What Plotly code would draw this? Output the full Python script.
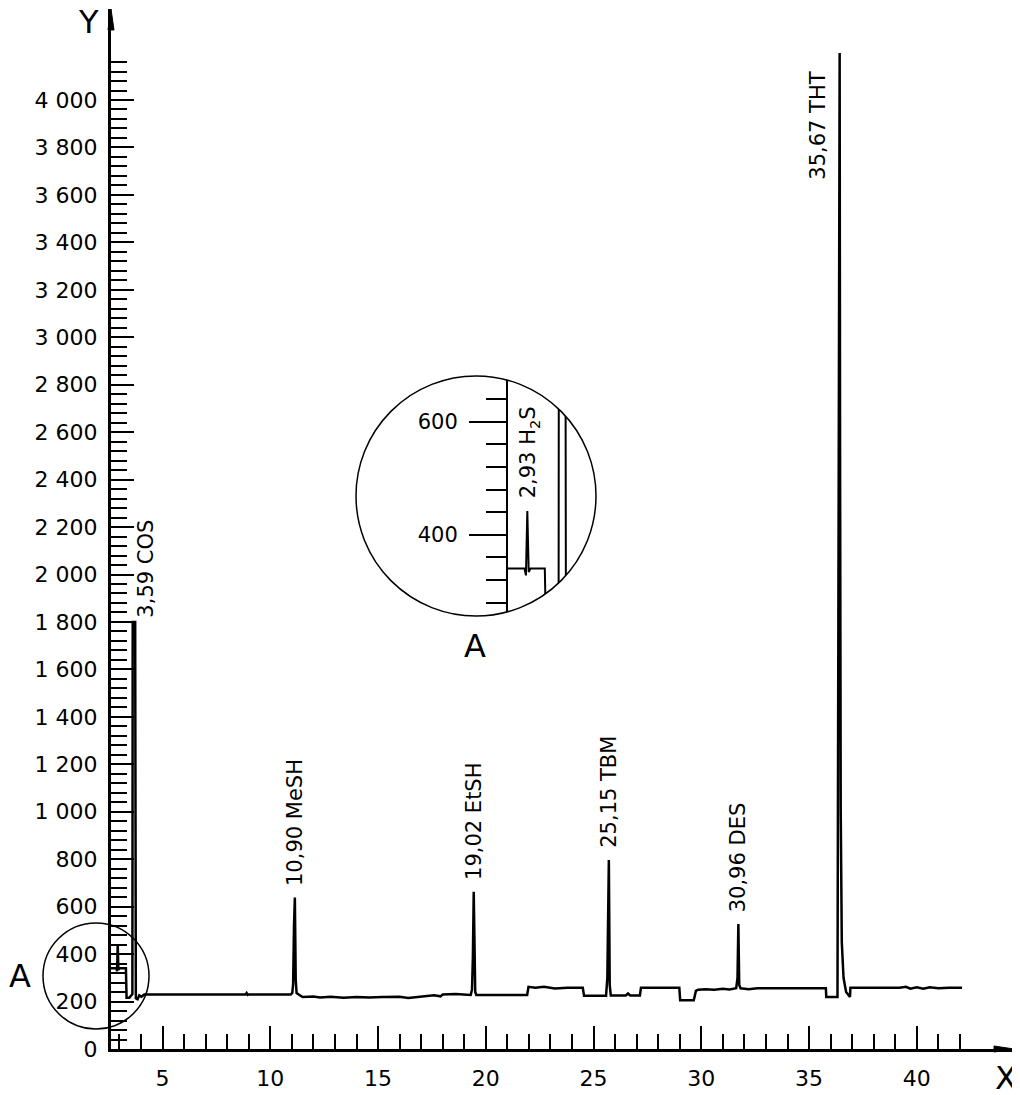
import plotly.graph_objects as go

# ---------------- data ----------------
rt = [2.45, 2.86, 2.89, 2.92, 2.95, 2.99, 3.30, 3.33, 3.46, 3.52, 3.57, 3.60, 3.615, 3.73, 3.76,
      3.84, 3.92, 4.02, 4.15, 6.0, 8.85, 8.90, 8.95, 9.0, 10.95, 11.02, 11.06, 11.10, 11.14,
      11.18, 11.22, 11.35, 11.50, 12.0, 12.3, 12.8, 13.4, 14.0, 14.6, 15.2, 16.0, 16.4, 17.0,
      17.6, 17.9, 18.0, 18.6, 19.0, 19.30, 19.36, 19.40, 19.44, 19.47, 19.51, 19.56, 21.92,
      21.98, 22.3, 22.7, 23.2, 23.8, 24.5, 24.56, 25.58, 25.64, 25.68, 25.71, 25.75, 25.80,
      26.5, 26.6, 26.7, 27.15, 27.20, 28.98, 29.02, 29.65, 29.75, 29.85, 30.2, 30.6, 31.0,
      31.3, 31.62, 31.68, 31.72, 31.76, 31.82, 32.2, 32.6, 33.0, 35.78, 35.80, 36.32, 36.36,
      36.42, 36.44, 36.47, 36.52, 36.60, 36.72, 36.85, 36.90, 36.92, 38.0, 39.2, 39.5, 39.7,
      40.0, 40.3, 40.6, 41.0, 41.5, 42.1]
signal = [340, 340, 328, 442, 334, 340, 340, 216, 216, 224, 232, 232, 1800, 1800, 214,
          210, 226, 220, 230, 230, 230, 236, 228, 230, 230, 236, 275, 520, 638,
          290, 236, 228, 219, 221, 217, 220, 216, 219, 217, 219, 220, 215, 222,
          226, 222, 230, 232, 230, 228, 250, 384, 663, 330, 240, 228, 228,
          262, 258, 262, 255, 258, 258, 224, 224, 300, 520, 797, 270, 226,
          226, 234, 226, 226, 258, 258, 205, 205, 245, 250, 252, 250, 254,
          251, 256, 300, 527, 270, 256, 252, 256, 256, 256, 219, 219, 1800,
          4198, 2500, 1000, 450, 300, 240, 222, 219, 258, 258, 258, 262, 254,
          260, 254, 260, 256, 258, 258]

peak_labels = ["3,59 COS", "10,90 MeSH", "19,02 EtSH", "25,15 TBM", "30,96 DES", "35,67 THT"]
peak_x = [3.615, 11.14, 19.44, 25.71, 31.72, 36.42]
peak_y = [1800, 638, 663, 797, 527, 4198]
inset_label = "2,93 H<sub>2</sub>S"
inset_peak_x = 2.92
inset_peak_y = 442

y_major = list(range(0, 4001, 200))
y_major_text = [f"{v:,}".replace(",", " ") for v in y_major]
y_minor = [v for v in range(0, 4161, 40) if v % 200 != 0]
x_major = [5, 10, 15, 20, 25, 30, 35, 40]
x_minor = [v for v in range(3, 43) if v % 5 != 0]
inset_major = [400, 600]
inset_minor = [v for v in range(280, 641, 40) if v not in (400, 600)]

# ---------------- layout geometry ----------------
# the page body adds an 8 px margin, so the figure is drawn 8 px smaller/shifted
OFF = 8
W, H = 1020 - OFF, 1095 - OFF
L, R, T, B = 111, 6, 9, 46          # in page pixels
PW = 1020 - L - R
PH = 1095 - T - B
BOTTOM = T + PH


def px(x):
    return (x - L) / PW


def py(y):
    return (BOTTOM - y) / PH


FONT = "DejaVu Sans"

fig = go.Figure()
fig.add_trace(go.Scatter(x=rt, y=signal, mode="lines", line=dict(color="black", width=2.5),
                         hoverinfo="skip", showlegend=False))
fig.add_trace(go.Scatter(x=rt, y=signal, mode="lines", line=dict(color="black", width=2),
                         xaxis="x2", yaxis="y2", hoverinfo="skip", showlegend=False))

# x scale: 21.55 px per minute, axis at 2.608; y scale 0.23725 px per unit
x_lo = 2.608
x_hi = x_lo + PW / 21.55
y_hi = PH / 0.23725

fig.update_layout(
    width=W, height=H,
    margin=dict(l=L - OFF, r=R, t=T - OFF, b=B),
    paper_bgcolor="white", plot_bgcolor="white",
    font=dict(family=FONT, size=22, color="black"),
    xaxis=dict(range=[x_lo, x_hi], showgrid=False, zeroline=False, showline=True,
               linecolor="black", linewidth=3, ticks="inside", ticklen=23, tickwidth=2,
               tickcolor="black", tickmode="array", tickvals=x_major,
               ticktext=[str(v) for v in x_major], ticklabelstandoff=8,
               minor=dict(tickmode="array", tickvals=x_minor, ticks="inside", ticklen=15,
                          tickwidth=2, tickcolor="black", showgrid=False),
               tickfont=dict(family=FONT, size=22)),
    yaxis=dict(range=[0, y_hi], showgrid=False, zeroline=False, showline=True,
               linecolor="black", linewidth=3, ticks="inside", ticklen=23, tickwidth=2,
               tickcolor="black", tickmode="array", tickvals=y_major, ticktext=y_major_text,
               ticklabelstandoff=6,
               minor=dict(tickmode="array", tickvals=y_minor, ticks="inside", ticklen=16,
                          tickwidth=2, tickcolor="black", showgrid=False),
               tickfont=dict(family=FONT, size=22)),
)

# ---------------- inset (detail A) ----------------
ins_left, ins_right, ins_top, ins_bot = 508, 600, 373, 613
ins_scale_y = 0.565
ins_y0 = 400 - (ins_bot - 534.7) / ins_scale_y
ins_y1 = 400 + (534.7 - ins_top) / ins_scale_y
ins_x0 = 2.50
ins_x1 = ins_x0 + (ins_right - ins_left) / 46.0

fig.update_layout(
    xaxis2=dict(domain=[px(ins_left), px(ins_right)], range=[ins_x0, ins_x1], anchor="y2",
                visible=False),
    yaxis2=dict(domain=[py(ins_bot), py(ins_top)], range=[ins_y0, ins_y1], anchor="x2",
                showgrid=False, zeroline=False, showline=True, linecolor="black", linewidth=2,
                ticks="outside", ticklen=37, tickwidth=2, tickcolor="black",
                tickmode="array", tickvals=inset_major, ticktext=[str(v) for v in inset_major],
                ticklabelstandoff=7, tickfont=dict(family=FONT, size=21),
                minor=dict(tickmode="array", tickvals=inset_minor, ticks="outside",
                           ticklen=20, tickwidth=2, tickcolor="black", showgrid=False)),
)

# mask outside the inset circle (rectangle with circular hole)
cx, cy, r = 476, 496, 120
rx0, rx1, ry0, ry1 = 350, 610, 368, 624
k = 0.5523 * r


def P(x, y):
    return f"{px(x):.6f},{py(y):.6f}"


mask = (f"M{P(rx0, ry0)} L{P(rx1, ry0)} L{P(rx1, ry1)} L{P(rx0, ry1)} Z "
        f"M{P(cx + r, cy)} "
        f"C{P(cx + r, cy + k)} {P(cx + k, cy + r)} {P(cx, cy + r)} "
        f"C{P(cx - k, cy + r)} {P(cx - r, cy + k)} {P(cx - r, cy)} "
        f"C{P(cx - r, cy - k)} {P(cx - k, cy - r)} {P(cx, cy - r)} "
        f"C{P(cx + k, cy - r)} {P(cx + r, cy - k)} {P(cx + r, cy)} Z")

XR = 1020 - R
shapes = [
    dict(type="path", xref="paper", yref="paper", path=mask, fillcolor="white",
         line=dict(width=0), layer="above"),
    dict(type="circle", xref="paper", yref="paper", x0=px(cx - r), x1=px(cx + r),
         y0=py(cy + r), y1=py(cy - r), line=dict(color="black", width=1.5), layer="above"),
    dict(type="circle", xref="paper", yref="paper", x0=px(96 - 53), x1=px(96 + 53),
         y0=py(976 + 53), y1=py(976 - 53), line=dict(color="black", width=1.5), layer="above"),
    # axis arrowheads
    dict(type="path", xref="paper", yref="paper",
         path=f"M{P(L - 3, T + 21)} L{P(L, T)} L{P(L + 3, T + 21)} Z",
         fillcolor="black", line=dict(color="black", width=1), layer="above"),
    dict(type="path", xref="paper", yref="paper",
         path=f"M{P(XR - 20, BOTTOM - 3)} L{P(XR, BOTTOM)} L{P(XR - 20, BOTTOM + 3)} Z",
         fillcolor="black", line=dict(color="black", width=1), layer="above"),
]
fig.update_layout(shapes=shapes)

# ---------------- annotations ----------------
ann = []
shifts = {"3,59 COS": (13, 2, "bottom"), "35,67 THT": (-22, -17, "top")}
for lab, xv, yv in zip(peak_labels, peak_x, peak_y):
    xs, ys, ya = shifts.get(lab, (0, 10, "bottom"))
    ann.append(dict(x=xv, y=yv, xref="x", yref="y", text=lab, showarrow=False,
                    textangle=-90, xanchor="center", yanchor=ya, xshift=xs, yshift=ys,
                    font=dict(family=FONT, size=21)))
ann.append(dict(x=inset_peak_x, y=inset_peak_y, xref="x2", yref="y2", text=inset_label,
                showarrow=False, textangle=-90, xanchor="center", yanchor="bottom",
                xshift=2, yshift=11, font=dict(family=FONT, size=21)))
for txt, x, y in [("Y", 88, 22), ("X", 1006, 1078), ("A", 20, 976), ("A", 475, 646)]:
    ann.append(dict(x=px(x), y=py(y), xref="paper", yref="paper", text=txt,
                    showarrow=False, xanchor="center", yanchor="middle",
                    font=dict(family=FONT, size=32)))
fig.update_layout(annotations=ann)

fig.write_html("out.html")
